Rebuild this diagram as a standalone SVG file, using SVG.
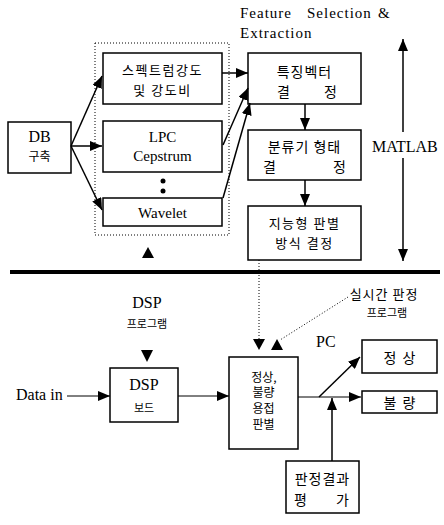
<svg xmlns="http://www.w3.org/2000/svg" width="444" height="525" viewBox="0 0 444 525">
<style>
.box{fill:#fff;stroke:#000;stroke-width:1.5}
.ln{fill:none;stroke:#000;stroke-width:1.5}
.thin{stroke-width:1}
.dot{fill:none;stroke:#000;stroke-width:1;stroke-dasharray:1 2}
.en{font-family:"Liberation Serif","Times New Roman",serif;font-size:15px;fill:#000}
.en16{font-size:16px}
.ko{font-family:"Noto Sans CJK KR",sans-serif;font-size:13px;fill:#000;dominant-baseline:central}
.k14{font-size:14px}
.k12{font-size:12px}
.k11{font-size:11px}
.tri{fill:#000}
</style>
<defs>
<marker id="ah" markerUnits="userSpaceOnUse" markerWidth="12" markerHeight="10" refX="12" refY="5" orient="auto">
<path d="M0,0 L12,5 L0,10 z" fill="#000"/>
</marker>
</defs>
<rect width="444" height="525" fill="#fff"/>

<g id="title">
<text class="en" y="18" letter-spacing="1"><tspan x="240">Feature</tspan><tspan x="307">Selection</tspan><tspan x="378">&amp;</tspan></text>
<text class="en" x="240" y="38" letter-spacing="1">Extraction</text>
</g>

<g id="feature-group">
<rect class="dot" x="95" y="43" width="134" height="192"/>
</g>

<g id="db">
<rect class="box" x="8" y="122" width="63" height="51"/>
<text class="en en16" x="39.5" y="142" text-anchor="middle">DB</text>
<text class="ko k12" x="39.5" y="155" text-anchor="middle">구축</text>
</g>

<g id="spectrum">
<rect class="box" x="103" y="53" width="119" height="51"/>
<text class="ko" x="162.5" y="69" text-anchor="middle" letter-spacing="1.5">스펙트럼강도</text>
<text class="ko" x="162.5" y="89" text-anchor="middle" letter-spacing="1.5">및 강도비</text>
</g>

<g id="lpc">
<rect class="box" x="103" y="121" width="119" height="51"/>
<text class="en" x="162.5" y="142" text-anchor="middle">LPC</text>
<text class="en" x="162.5" y="161" text-anchor="middle">Cepstrum</text>
</g>

<g id="dots">
<circle cx="163" cy="181" r="2.5" fill="#000"/>
<circle cx="163" cy="191" r="2.5" fill="#000"/>
</g>

<g id="wavelet">
<rect class="box" x="103" y="198" width="119" height="28"/>
<text class="en" x="162.5" y="218" text-anchor="middle">Wavelet</text>
</g>

<g id="feature-vector">
<rect class="box" x="248" y="53" width="113" height="51"/>
<text class="ko k14" x="304.5" y="71" text-anchor="middle" letter-spacing="1">특징벡터</text>
<text class="ko k14" y="91"><tspan x="277">결</tspan><tspan x="324">정</tspan></text>
</g>

<g id="classifier">
<rect class="box" x="248" y="130" width="113" height="50"/>
<text class="ko k14" x="304.5" y="146" text-anchor="middle" letter-spacing="1">분류기 형태</text>
<text class="ko k14" y="166"><tspan x="263">결</tspan><tspan x="333">정</tspan></text>
</g>

<g id="intelligent">
<rect class="box" x="248" y="206" width="113" height="54"/>
<text class="ko" x="304.5" y="222" text-anchor="middle" letter-spacing="1.5">지능형 판별</text>
<text class="ko" x="304.5" y="242" text-anchor="middle" letter-spacing="1.5">방식 결정</text>
</g>

<g id="matlab">
<text class="en en16" x="372" y="152">MATLAB</text>
</g>

<g id="divider">
<line x1="10" y1="272" x2="440" y2="272" stroke="#000" stroke-width="4"/>
</g>

<g id="dsp-program">
<text class="en en16" x="147" y="308" text-anchor="middle">DSP</text>
<text class="ko k11" x="147" y="323" text-anchor="middle">프로그램</text>
</g>

<g id="data-in">
<text class="en en16" x="16" y="400">Data in</text>
</g>

<g id="dsp-board">
<rect class="box" x="110" y="368" width="68" height="54"/>
<text class="en en16" x="144" y="390" text-anchor="middle">DSP</text>
<text class="ko k11" x="144" y="407" text-anchor="middle">보드</text>
</g>

<g id="realtime-program">
<text class="ko" x="384" y="293" text-anchor="middle" letter-spacing="1">실시간 판정</text>
<text class="ko k11" x="387" y="312" text-anchor="middle">프로그램</text>
</g>

<g id="pc">
<text class="en en16" x="316" y="347">PC</text>
</g>

<g id="judge">
<rect class="box" x="229" y="357" width="69" height="92"/>
<text class="ko k12" x="264" y="376" text-anchor="middle">정상,</text>
<text class="ko k12" x="263.5" y="391.5" text-anchor="middle">불량</text>
<text class="ko k12" x="263.5" y="407" text-anchor="middle">용접</text>
<text class="ko k12" x="263.5" y="423" text-anchor="middle">판별</text>
</g>

<g id="normal">
<rect class="box" x="362" y="340" width="75" height="33"/>
<text class="ko k14" x="399.5" y="357" text-anchor="middle" xml:space="preserve">정  상</text>
</g>

<g id="defect">
<rect class="box" x="362" y="391" width="75" height="22"/>
<text class="ko k14" x="399.5" y="402" text-anchor="middle" xml:space="preserve">불  량</text>
</g>

<g id="evaluation">
<rect class="box" x="286" y="461" width="73" height="52"/>
<text class="ko k14" x="322.5" y="478" text-anchor="middle" letter-spacing="1">판정결과</text>
<text class="ko k14" y="499"><tspan x="294">평</tspan><tspan x="336">가</tspan></text>
</g>

<g id="connectors">
<line class="ln" x1="71" y1="146" x2="102" y2="76" marker-end="url(#ah)"/>
<line class="ln" x1="71" y1="146" x2="102" y2="146" marker-end="url(#ah)"/>
<line class="ln" x1="71" y1="146" x2="102" y2="210" marker-end="url(#ah)"/>
<line class="ln" x1="222" y1="73" x2="248" y2="73" marker-end="url(#ah)"/>
<line class="ln" x1="223" y1="145" x2="248" y2="88" marker-end="url(#ah)"/>
<line class="ln" x1="223" y1="198" x2="250" y2="103" marker-end="url(#ah)"/>
<line class="ln" x1="305" y1="104" x2="305" y2="130" marker-end="url(#ah)"/>
<line class="ln" x1="305" y1="180" x2="305" y2="206" marker-end="url(#ah)"/>
<line class="ln" x1="403" y1="132" x2="403" y2="39" marker-end="url(#ah)"/>
<line class="ln" x1="403" y1="158" x2="403" y2="261" marker-end="url(#ah)"/>
<line class="dot" x1="259" y1="260" x2="259" y2="339"/>
<line class="dot" x1="348" y1="297" x2="280" y2="340"/>
<line class="ln thin" x1="67" y1="396" x2="110" y2="396" marker-end="url(#ah)"/>
<line class="ln thin" x1="178" y1="396" x2="229" y2="396" marker-end="url(#ah)"/>
<line class="ln thin" x1="298" y1="397" x2="361" y2="397" marker-end="url(#ah)"/>
<line class="ln" x1="319" y1="397" x2="360" y2="357" marker-end="url(#ah)"/>
<line class="ln" x1="332" y1="461" x2="332" y2="398" marker-end="url(#ah)"/>
<polygon class="tri" points="142,258 148,247 154,258"/>
<polygon class="tri" points="141,350 153,350 147,362"/>
<polygon class="tri" points="253,339 265,339 259,350"/>
<polygon class="tri" points="271,350 283,350 277,339"/>
</g>
</svg>
